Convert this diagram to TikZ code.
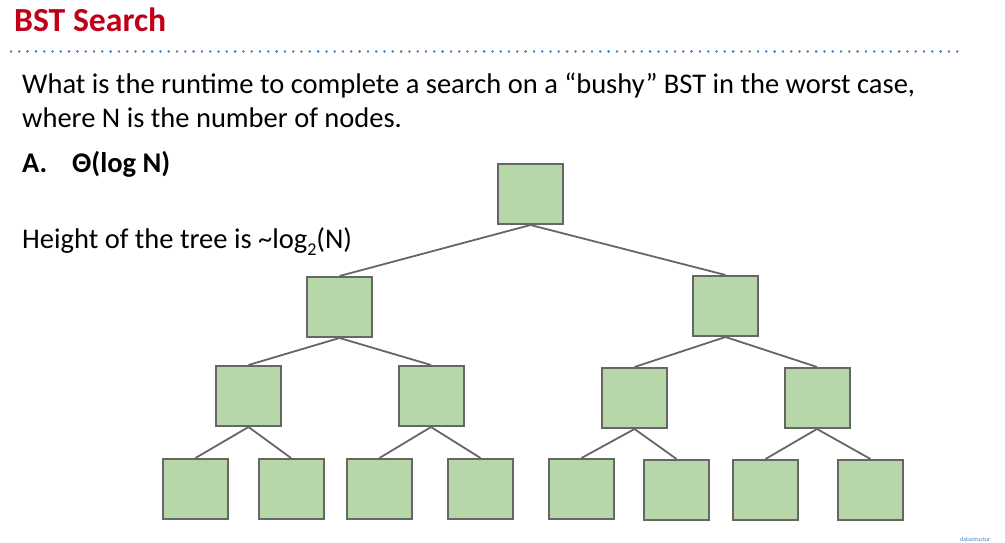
\documentclass[tikz,border=0pt]{standalone}
\usepackage{fontspec}
\setmainfont{Carlito}
\usepackage{xcolor}
\usepackage{tikz}
\usetikzlibrary{
  positioning,
}
\definecolor{titlered}{HTML}{C00018}
\definecolor{ruleblue}{HTML}{3F80CC}
\definecolor{nodegreen}{HTML}{B7D7A8}
\definecolor{edgegray}{HTML}{666666}

\begin{document}
\begin{tikzpicture}[x=1pt, y=-1pt,
  treenode/.style={draw=edgegray, fill=nodegreen, line width=2pt,
    minimum width=65pt, minimum height=60pt, inner sep=0pt},
  treeedge/.style={edgegray, line width=1.8pt},
  bodytext/.style={anchor=base west, inner sep=0pt,
    font=\fontsize{28.5}{34}\selectfont},
]
  \useasboundingbox (0,0) rectangle (1005,543);
  % title and dotted rule
  \node[anchor=base west, inner sep=0pt, text=titlered,
    font=\fontsize{33.7}{40}\selectfont\bfseries] (title) at (14,32) {BST Search};
  \draw[ruleblue, line width=2.8pt, line cap=round, dash pattern=on 0pt off 8.3pt] (11,51.5) -- (958,51.5);
  % question
  \node[bodytext] (question1) at (22,93)
    {What is the runtime to complete a search on a “bushy” BST in the worst case,};
  \node[bodytext] (question2) at (22,128) {where N is the number of nodes.};
  \node[bodytext, font=\fontsize{28.5}{34}\selectfont\bfseries] (answer) at (22,172)
    {\makebox[50pt][l]{A.}Θ(log N)};
  \node[bodytext] (height) at (22,248) {Height of the tree is \textasciitilde log\raisebox{-7pt}{\fontsize{18}{20}\selectfont 2}(N)};
  % tree nodes
  \node[treenode] (root) at (530.5,194) {};
  \node[treenode] (l) at (339.5,307) {};
  \node[treenode] (r) at (725.5,306) {};
  \node[treenode] (ll) at (248.5,396) {};
  \node[treenode] (lr) at (431,396) {};
  \node[treenode] (rl) at (634.5,398) {};
  \node[treenode] (rr) at (817,398) {};
  \node[treenode] (lll) at (195.5,489) {};
  \node[treenode] (llr) at (291,489) {};
  \node[treenode] (lrl) at (379.5,489) {};
  \node[treenode] (lrr) at (480.5,489) {};
  \node[treenode] (rll) at (581.5,489) {};
  \node[treenode] (rlr) at (676.5,490) {};
  \node[treenode] (rrl) at (765.5,490) {};
  \node[treenode] (rrr) at (870.5,490) {};
  % edges
  \foreach \parent/\child in {root/l, root/r, l/ll, l/lr, r/rl, r/rr,
      ll/lll, ll/llr, lr/lrl, lr/lrr, rl/rll, rl/rlr, rr/rrl, rr/rrr}
    \draw[treeedge] (\parent.south) -- (\child.north);
  % footer
  \node[anchor=base west, inner sep=0pt, text=ruleblue,
    font=\fontsize{6}{7}\selectfont] (footer) at (960,541) {datastructur};
\end{tikzpicture}
\end{document}
